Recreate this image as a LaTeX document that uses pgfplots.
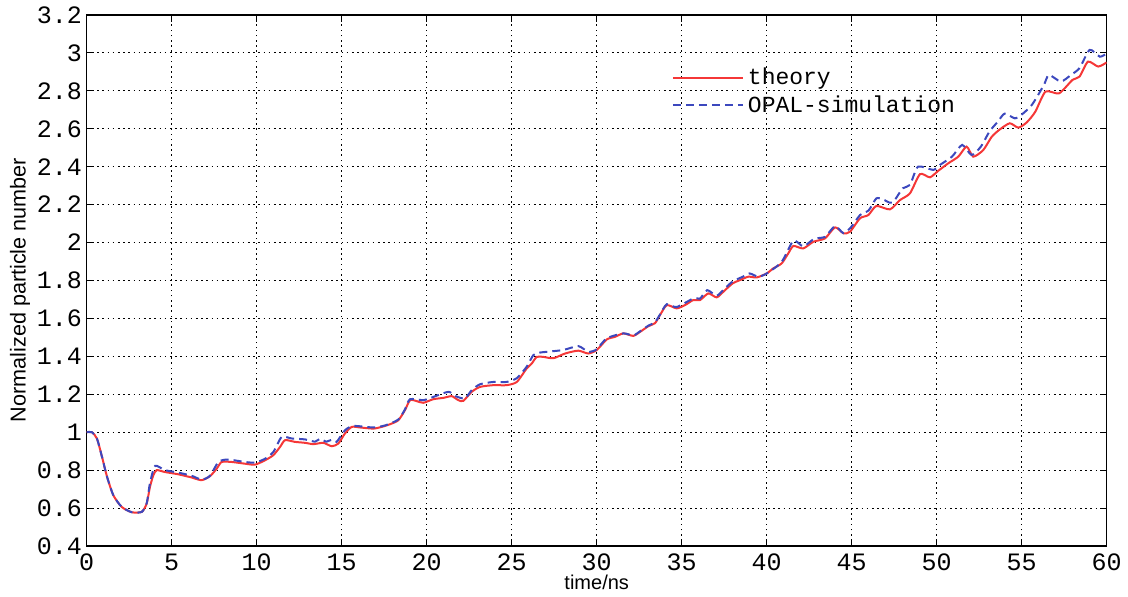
\documentclass[border=0pt]{standalone}
\usepackage{fontspec}
\setmainfont{Liberation Sans}
\newfontfamily\monofont{Liberation Mono}
\usepackage{pgfplots}
\usepackage{pgfplotstable}
\pgfplotsset{compat=1.18}

\definecolor{theoryred}{RGB}{245,55,55}
\definecolor{opalblue}{RGB}{60,72,190}

% theory curve: time (ns), normalized particle number
\pgfplotstableread{
t N
0 1.0
0.3 1.0
0.6 0.967
0.9 0.87
1.2 0.764
1.57 0.667
2.06 0.606
2.65 0.578
3.24 0.58
3.53 0.624
3.72 0.711
3.92 0.773
4.12 0.80
4.6 0.79
5.39 0.778
6.18 0.761
6.76 0.747
7.25 0.768
7.65 0.808
7.94 0.843
8.53 0.843
9.31 0.834
9.9 0.829
10.49 0.852
10.98 0.879
11.37 0.922
11.67 0.958
12.25 0.949
12.84 0.944
13.33 0.937
13.92 0.944
14.41 0.926
14.8 0.94
15.19 0.993
15.59 1.028
16.08 1.025
16.86 1.019
17.35 1.028
17.84 1.042
18.33 1.063
18.72 1.116
19.02 1.169
19.41 1.164
19.8 1.155
20.39 1.174
20.98 1.181
21.47 1.19
21.86 1.169
22.15 1.165
22.65 1.213
23.14 1.239
23.92 1.248
24.7 1.248
25.3 1.265
25.88 1.336
26.18 1.362
26.47 1.397
26.86 1.397
27.45 1.39
28.14 1.415
28.92 1.43
29.5 1.415
30 1.433
30.59 1.489
31.08 1.503
31.57 1.521
32.15 1.508
32.55 1.529
33.04 1.559
33.43 1.575
33.72 1.617
34.12 1.67
34.7 1.653
35.19 1.67
35.68 1.697
36.08 1.697
36.57 1.732
37.06 1.711
37.5 1.745
38 1.785
38.43 1.802
38.92 1.82
39.41 1.816
40 1.837
40.39 1.864
40.88 1.89
41.27 1.943
41.57 1.982
42.15 1.969
42.74 2.004
43.43 2.022
44.02 2.08
44.51 2.049
44.9 2.057
45.49 2.128
45.98 2.145
46.45 2.193
47.25 2.175
47.84 2.224
48.43 2.26
49.02 2.361
49.6 2.344
50.1 2.379
50.68 2.418
51.27 2.453
51.76 2.506
52.15 2.453
52.74 2.488
53.24 2.558
53.72 2.597
54.3 2.629
54.8 2.606
55.3 2.634
55.8 2.69
56.4 2.796
57.2 2.787
57.99 2.858
58.4 2.875
58.9 2.954
59.5 2.928
60 2.95
}\theorydata

% OPAL simulation curve
\pgfplotstableread{
t N
0 1.0
0.3 1.0
0.6 0.967
0.9 0.87
1.2 0.764
1.57 0.667
2.06 0.606
2.65 0.578
3.24 0.58
3.53 0.626
3.72 0.73
4.02 0.822
4.6 0.80
5.39 0.787
6.18 0.77
6.76 0.75
7.25 0.77
7.75 0.843
8.3 0.856
9.31 0.843
9.9 0.84
10.49 0.86
10.98 0.896
11.47 0.975
12.05 0.967
12.84 0.962
13.43 0.95
13.72 0.965
14.1 0.95
14.4 0.96
14.7 0.949
15.19 1.01
15.69 1.033
16.86 1.025
17.6 1.037
18.33 1.067
18.72 1.12
19.02 1.174
19.8 1.169
20.39 1.186
21.28 1.213
21.7 1.19
22.25 1.178
22.65 1.222
23.14 1.253
23.92 1.265
24.7 1.265
25.3 1.285
25.88 1.345
26.27 1.406
26.67 1.42
28.0 1.433
28.92 1.454
29.5 1.424
30 1.437
30.59 1.495
31.57 1.521
32.15 1.51
32.55 1.532
33.04 1.562
33.43 1.58
33.72 1.62
34.12 1.675
34.7 1.66
35.68 1.705
36.08 1.705
36.5 1.749
37.06 1.72
37.5 1.755
38 1.795
38.6 1.82
39.0 1.837
39.5 1.82
40 1.837
40.88 1.898
41.57 2.01
42.15 1.98
42.8 2.02
43.43 2.03
44.02 2.087
44.51 2.05
44.95 2.08
45.49 2.145
46.0 2.17
46.45 2.233
46.85 2.227
47.25 2.21
47.5 2.22
48.0 2.286
48.43 2.304
48.9 2.4
49.8 2.383
50.2 2.41
50.9 2.453
51.5 2.515
52.05 2.462
52.6 2.506
53.1 2.585
53.6 2.638
54.0 2.68
54.6 2.655
55.0 2.675
55.6 2.726
56.3 2.83
56.6 2.884
57.3 2.849
57.9 2.884
58.4 2.92
59.0 3.016
59.6 2.98
60 2.998
}\opaldata

\begin{document}
\begin{tikzpicture}
\useasboundingbox (-43.35pt,-25.5pt) rectangle (520.65pt,273pt);
\begin{axis}[
  at={(0pt,0pt)}, anchor=south west,
  scale only axis,
  width=510pt, height=265.5pt,
  xmin=0, xmax=60, ymin=0.4, ymax=3.2,
  xtick={0,5,...,60},
  ytick={0.4,0.6,0.8,1,1.2,1.4,1.6,1.8,2,2.2,2.4,2.6,2.8,3,3.2},
  yticklabels={0.4,0.6,0.8,1,1.2,1.4,1.6,1.8,2,2.2,2.4,2.6,2.8,3,3.2},
  tick align=inside,
  major tick length=3.5pt,
  tick style={black, line width=0.5pt},
  axis line style={black, line width=0.6pt},
  /pgf/number format/assume math mode=true,
  ticklabel style={font=\fontsize{12.5}{14}\monofont},
  yticklabel style={inner sep=2.2pt},
  xticklabel style={inner sep=3.8pt},
  grid=major,
  major grid style={black, line width=0.55pt, dash pattern=on 0.8pt off 1.8pt},
  xlabel={time/ns},
  ylabel={Normalized particle number},
  xlabel style={font=\fontsize{10}{12}\selectfont,
    at={(axis description cs:0.5,-0.0678)}, anchor=center},
  ylabel style={font=\fontsize{10.8}{12}\selectfont,
    at={(axis description cs:-0.0654,0.482)}, anchor=center},
  legend style={at={(rel axis cs:0.5738,0.9077)}, anchor=north west,
    draw=none, fill=none, inner sep=0pt, outer sep=0pt,
    font=\fontsize{11.5}{13}\monofont, row sep=0pt,
    /tikz/every even column/.append style={column sep=6.5pt}},
  legend cell align=left,
  legend image code/.code={\draw[#1] (0pt,0pt) -- (35pt,0pt);},
]
\addplot[theoryred, line width=1pt, smooth, tension=0.4] table[x=t, y=N] {\theorydata};
\addlegendentry{theory}
\addplot[opalblue, line width=1pt, dash pattern=on 4pt off 2.5pt, smooth, tension=0.4] table[x=t, y=N] {\opaldata};
\addlegendentry{OPAL-simulation}
\end{axis}
\end{tikzpicture}
\end{document}
